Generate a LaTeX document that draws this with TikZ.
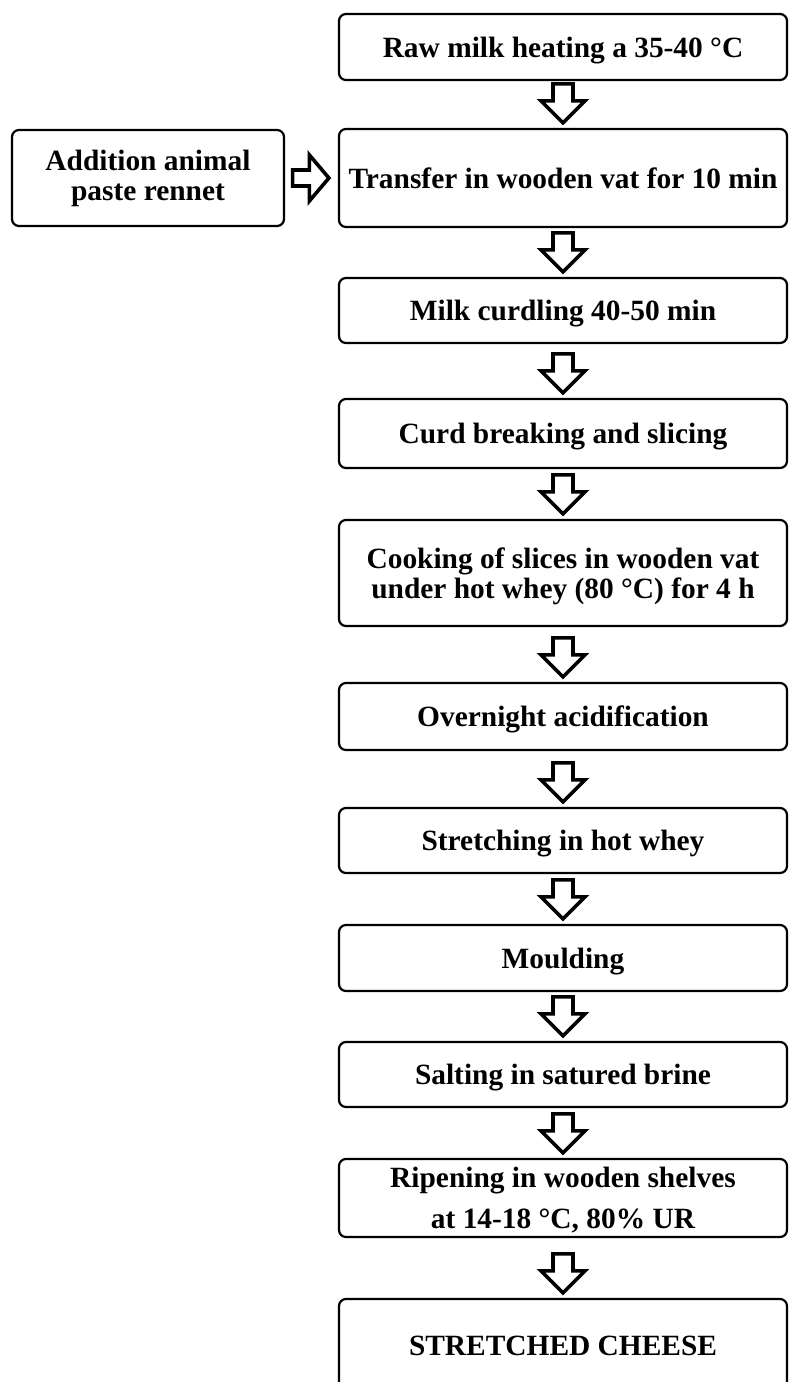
\documentclass[tikz,border=0pt]{standalone}
\usepackage{fontspec}
\setmainfont{Liberation Serif}
\usetikzlibrary{calc}
\begin{document}
\begin{tikzpicture}[x=0.5pt,y=-0.5pt,
  stepbox/.style={draw, line width=1.1pt, rounded corners=3.5pt, align=center,
    inner sep=0pt, text depth=0pt, font=\bfseries\fontsize{14.7}{15}\selectfont},
  mainbox/.style={stepbox, minimum width=224pt},
  blockline/.style={draw, line width=1.8pt, line join=miter, fill=white},
  % hollow block arrow pointing down, tip just above the target
  downblock/.style={blockline, to path={
    let \p1=(\tikztostart), \p2=(\tikztotarget) in
    (\x1-5pt,\y2+22pt) -- (\x1+5pt,\y2+22pt) -- (\x1+5pt,\y2+13.5pt)
    -- (\x1+11pt,\y2+13.5pt) -- (\x1,\y2+2.5pt) -- (\x1-11pt,\y2+13.5pt)
    -- (\x1-5pt,\y2+13.5pt) -- cycle}},
  % hollow block arrow pointing right
  rightblock/.style={blockline, to path={
    let \p1=(\tikztostart), \p2=(\tikztotarget) in
    (\x1+3.75pt,\y1+4pt) -- (\x2-14.25pt,\y1+4pt) -- (\x2-14.25pt,\y1+11.5pt)
    -- (\x2-4.5pt,\y1) -- (\x2-14.25pt,\y1-11.5pt) -- (\x2-14.25pt,\y1-4pt)
    -- (\x1+3.75pt,\y1-4pt) -- cycle}}
]
\useasboundingbox (0,0) rectangle (788,1382);
\clip (0,0) rectangle (788,1382);

\node[mainbox, minimum height=33pt]   (s1)  at (563,47)     {Raw milk heating a 35-40 °C};
\node[mainbox, minimum height=49pt]   (s2)  at (563,178)    {Transfer in wooden vat for 10 min};
\node[mainbox, minimum height=32.5pt] (s3)  at (563,310.5)  {Milk curdling 40-50 min};
\node[mainbox, minimum height=34.5pt] (s4)  at (563,433.5)  {Curd breaking and slicing};
\node[mainbox, minimum height=53pt]   (s5)  at (563,573)    {Cooking of slices in wooden vat\\under hot whey (80 °C) for 4 h};
\node[mainbox, minimum height=33.5pt] (s6)  at (563,716.5)  {Overnight acidification};
\node[mainbox, minimum height=32.5pt] (s7)  at (563,840.5)  {Stretching in hot whey};
\node[mainbox, minimum height=33pt]   (s8)  at (563,958)    {Moulding};
\node[mainbox, minimum height=32.5pt] (s9)  at (563,1074.5) {Salting in satured brine};
\node[mainbox, minimum height=39pt]   (s10) at (563,1198)   {Ripening in wooden shelves\\[5.5pt]at 14-18 °C, 80\% UR};
\node[mainbox, minimum height=46.5pt] (s11) at (563,1345.5) {STRETCHED CHEESE};

\node[stepbox, minimum width=136pt, minimum height=48pt, text depth=3pt] (rennet) at (148,178)
  {Addition animal\\paste rennet};

\foreach \a/\b in {s1/s2,s2/s3,s3/s4,s4/s5,s5/s6,s6/s7,s7/s8,s8/s9,s9/s10,s10/s11}
  \path (\a.south) edge[downblock] (\b.north);
\path (rennet.east) edge[rightblock] (s2.west);
\end{tikzpicture}
\end{document}
